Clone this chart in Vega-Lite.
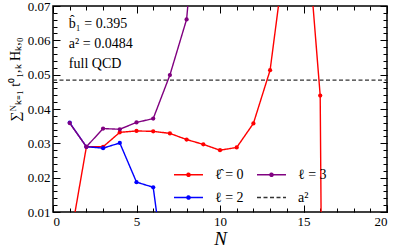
{
  "$schema": "https://vega.github.io/schema/vega-lite/v6.json",
  "width": 334,
  "height": 206,
  "autosize": "none",
  "padding": {"left": 53, "top": 6, "right": 8, "bottom": 37},
  "background": "white",
  "config": {
    "view": {"stroke": "black", "strokeWidth": 1.5},
    "font": "Liberation Serif",
    "axis": {
      "labelFont": "Liberation Serif",
      "labelFontSize": 13,
      "labelColor": "black",
      "tickColor": "black",
      "tickWidth": 1,
      "domain": false,
      "grid": false,
      "titleFont": "Liberation Serif",
      "titleColor": "black",
      "titleFontWeight": "normal"
    },
    "axisLeft": {"titleY": 73, "titleX": -38, "titleAngle": -90, "titleAlign": "center", "titleBaseline": "middle"},
    "legend": {
      "labelFont": "Liberation Serif",
      "labelFontSize": 14,
      "labelColor": "black"
    }
  },
  "data": {
    "values": [
      {"series": "ℓ̂ = 0", "N": 1, "v": 0.001},
      {"series": "ℓ̂ = 0", "N": 2, "v": 0.029},
      {"series": "ℓ̂ = 0", "N": 3, "v": 0.029},
      {"series": "ℓ̂ = 0", "N": 4, "v": 0.0332},
      {"series": "ℓ̂ = 0", "N": 5, "v": 0.0336},
      {"series": "ℓ̂ = 0", "N": 6, "v": 0.0335},
      {"series": "ℓ̂ = 0", "N": 7, "v": 0.0329},
      {"series": "ℓ̂ = 0", "N": 8, "v": 0.0311},
      {"series": "ℓ̂ = 0", "N": 9, "v": 0.0297},
      {"series": "ℓ̂ = 0", "N": 10, "v": 0.028},
      {"series": "ℓ̂ = 0", "N": 11, "v": 0.0288},
      {"series": "ℓ̂ = 0", "N": 12, "v": 0.0358},
      {"series": "ℓ̂ = 0", "N": 13, "v": 0.0513},
      {"series": "ℓ̂ = 0", "N": 14, "v": 0.0887},
      {"series": "ℓ̂ = 0", "N": 15, "v": 0.1046},
      {"series": "ℓ̂ = 0", "N": 16, "v": 0.0439},
      {"series": "ℓ̂ = 0", "N": 17, "v": -0.6},
      {"series": "ℓ = 2", "N": 1, "v": 0.036},
      {"series": "ℓ = 2", "N": 2, "v": 0.029},
      {"series": "ℓ = 2", "N": 3, "v": 0.0286},
      {"series": "ℓ = 2", "N": 4, "v": 0.0301},
      {"series": "ℓ = 2", "N": 5, "v": 0.0187},
      {"series": "ℓ = 2", "N": 6, "v": 0.0172},
      {"series": "ℓ = 2", "N": 7, "v": -0.019},
      {"series": "ℓ = 3", "N": 1, "v": 0.0359},
      {"series": "ℓ = 3", "N": 2, "v": 0.029},
      {"series": "ℓ = 3", "N": 3, "v": 0.0343},
      {"series": "ℓ = 3", "N": 4, "v": 0.0341},
      {"series": "ℓ = 3", "N": 5, "v": 0.0361},
      {"series": "ℓ = 3", "N": 6, "v": 0.0372},
      {"series": "ℓ = 3", "N": 7, "v": 0.0499},
      {"series": "ℓ = 3", "N": 8, "v": 0.0661},
      {"series": "ℓ = 3", "N": 9, "v": 0.12},
      {"series": "a²", "N": 0, "v": 0.0484},
      {"series": "a²", "N": 20, "v": 0.0484}
    ]
  },
  "resolve": {"axis": {"x": "independent", "y": "independent"}},
  "layer": [
    {
      "transform": [{"filter": "datum.series === 'a²'"}],
      "mark": {"type": "line", "clip": true, "strokeWidth": 1.3},
      "encoding": {
        "x": {"field": "N", "type": "quantitative", "scale": {"domain": [0, 20], "nice": false, "zero": false},
          "axis": {"orient": "bottom", "values": [0, 5, 10, 15, 20], "tickSize": -7, "labelPadding": 10, "title": "N", "titleFontSize": 19, "titleFontStyle": "italic", "titlePadding": 1}},
        "y": {"field": "v", "type": "quantitative", "scale": {"domain": [0.01, 0.07], "nice": false, "zero": false},
          "axis": {"orient": "left", "values": [0.01, 0.02, 0.03, 0.04, 0.05, 0.06, 0.07], "format": ".2f", "tickSize": -7, "labelPadding": 10, "title": "∑ᴺₖ₌₁ t⁰₁,ₖ Hₖ,₀", "titleFontSize": 14, "titleY": 73, "titleX": -38}},
        "color": {"field": "series", "type": "nominal", "title": null,
          "scale": {"domain": ["ℓ̂ = 0", "ℓ = 2", "ℓ = 3", "a²"], "range": ["#ff0000", "#0000ff", "#800080", "#333333"]},
          "legend": {"orient": "none", "legendX": 120, "legendY": 153, "columns": 2, "symbolType": "stroke", "symbolSize": 840, "symbolStrokeWidth": 1.5, "labelOffset": 11, "columnPadding": 10, "rowPadding": -3, "padding": 0,
            "encode": {"symbols": {"update": {
              "shape": {"signal": "datum.value === 'a²' ? 'stroke' : 'M-1,0H1M0.11,0A0.11,0.11,0,1,1,-0.11,0A0.11,0.11,0,1,1,0.11,0'"}
            }}}}},
        "strokeDash": {"field": "series", "type": "nominal", "title": null,
          "scale": {"domain": ["ℓ̂ = 0", "ℓ = 2", "ℓ = 3", "a²"], "range": [[1, 0], [1, 0], [1, 0], [4, 2.5]]}}
      }
    },
    {
      "transform": [{"filter": "datum.series !== 'a²'"}],
      "mark": {"type": "line", "clip": true, "strokeWidth": 1.4},
      "encoding": {
        "x": {"field": "N", "type": "quantitative",
          "axis": {"orient": "bottom", "values": [0,1,2,3,4,5,6,7,8,9,10,11,12,13,14,15,16,17,18,19,20], "tickSize": -4, "labels": false, "title": null}},
        "y": {"field": "v", "type": "quantitative",
          "axis": {"orient": "left", "values": [0.01,0.012,0.014,0.016,0.018,0.02,0.022,0.024,0.026,0.028,0.03,0.032,0.034,0.036,0.038,0.04,0.042,0.044,0.046,0.048,0.05,0.052,0.054,0.056,0.058,0.06,0.062,0.064,0.066,0.068,0.07], "tickSize": -4, "labels": false, "title": null}},
        "color": {"field": "series", "type": "nominal", "title": null},
        "strokeDash": {"field": "series", "type": "nominal", "title": null}
      }
    },
    {
      "transform": [{"filter": "datum.series !== 'a²'"}],
      "mark": {"type": "point", "filled": true, "clip": true, "size": 18, "opacity": 1, "strokeWidth": 0},
      "encoding": {
        "x": {"field": "N", "type": "quantitative",
          "axis": {"orient": "top", "values": [0, 5, 10, 15, 20], "tickSize": -7, "labels": false, "title": null}},
        "y": {"field": "v", "type": "quantitative",
          "axis": {"orient": "right", "values": [0.01, 0.02, 0.03, 0.04, 0.05, 0.06, 0.07], "tickSize": -7, "labels": false, "title": null}},
        "fill": {"field": "series", "type": "nominal", "legend": null,
          "scale": {"domain": ["ℓ̂ = 0", "ℓ = 2", "ℓ = 3"], "range": ["#ff0000", "#0000ff", "#800080"]}}
      }
    },
    {
      "data": {
        "values": [
          {"label": "b̂₁ = 0.395", "N": 0.95, "v": 0.0648},
          {"label": "a² = 0.0484", "N": 0.95, "v": 0.059},
          {"label": "full QCD", "N": 0.95, "v": 0.0532}
        ]
      },
      "mark": {"type": "text", "align": "left", "baseline": "middle", "font": "Liberation Serif", "fontSize": 14, "color": "black"},
      "encoding": {
        "x": {"field": "N", "type": "quantitative",
          "axis": {"orient": "top", "values": [0,1,2,3,4,5,6,7,8,9,10,11,12,13,14,15,16,17,18,19,20], "tickSize": -4, "labels": false, "title": null}},
        "y": {"field": "v", "type": "quantitative",
          "axis": {"orient": "right", "values": [0.01,0.012,0.014,0.016,0.018,0.02,0.022,0.024,0.026,0.028,0.03,0.032,0.034,0.036,0.038,0.04,0.042,0.044,0.046,0.048,0.05,0.052,0.054,0.056,0.058,0.06,0.062,0.064,0.066,0.068,0.07], "tickSize": -4, "labels": false, "title": null}},
        "text": {"field": "label"}
      }
    }
  ]
}
